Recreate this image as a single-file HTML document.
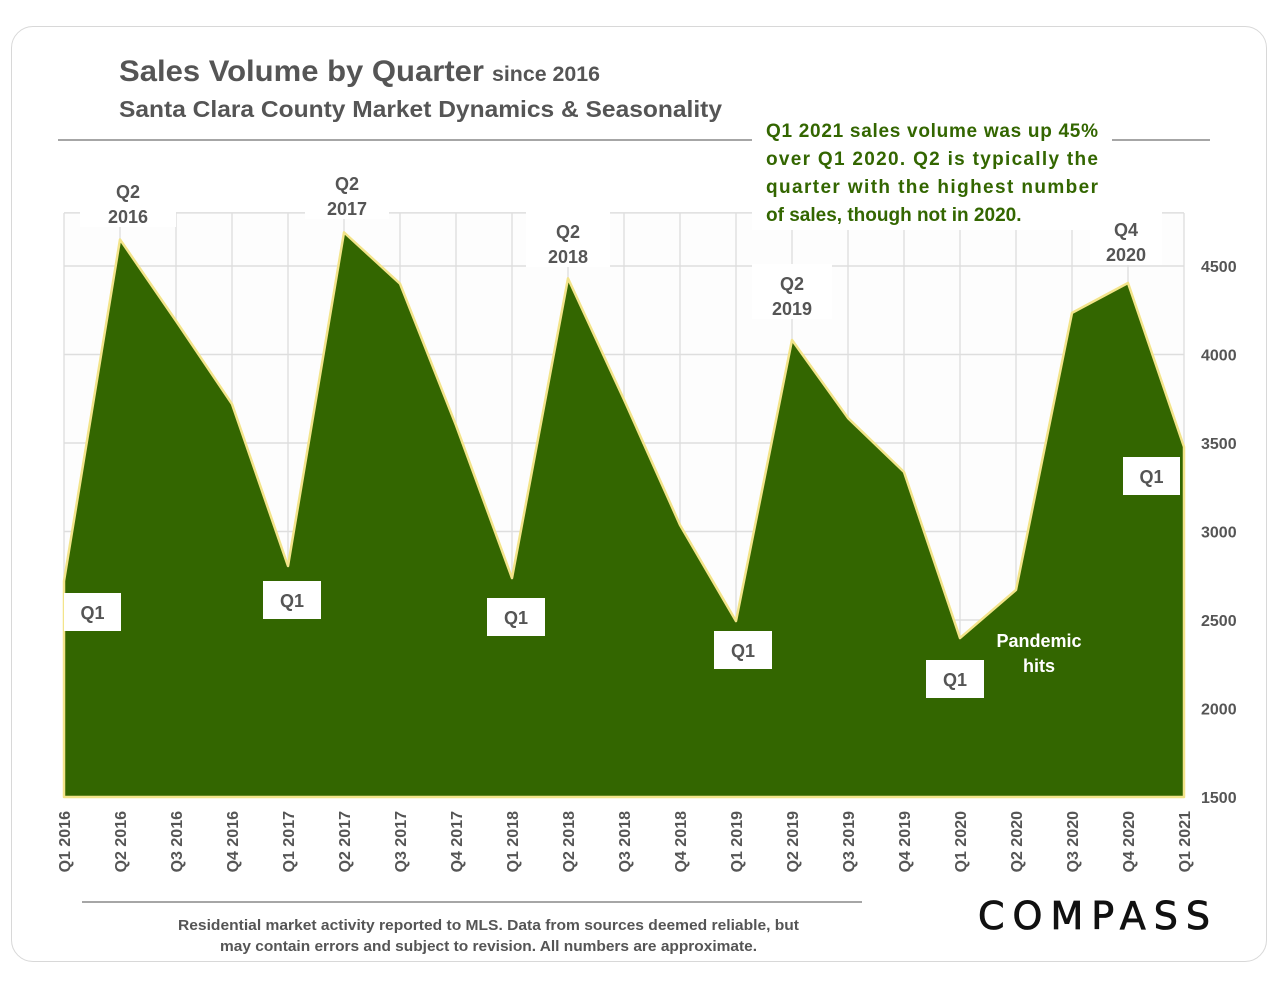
<!DOCTYPE html>
<html><head><meta charset="utf-8"><style>
body{margin:0;background:#fff;width:1280px;height:989px;overflow:hidden;font-family:"Liberation Sans",sans-serif}
#card{position:absolute;left:11px;top:26px;width:1256px;height:936px;border:1.5px solid #d8d8d8;border-radius:22px;box-sizing:border-box}
</style></head><body>
<div id="card"></div>
<svg id="chart" width="1280" height="989" style="position:absolute;left:0;top:0"></svg>
<script>
const categories=["Q1 2016","Q2 2016","Q3 2016","Q4 2016","Q1 2017","Q2 2017","Q3 2017","Q4 2017","Q1 2018","Q2 2018","Q3 2018","Q4 2018","Q1 2019","Q2 2019","Q3 2019","Q4 2019","Q1 2020","Q2 2020","Q3 2020","Q4 2020","Q1 2021"];
const salesVolume=[2720,4650,4190,3720,2805,4690,4400,3600,2737,4430,3745,3037,2494,4082,3641,3336,2398,2670,4235,4404,3478];
const yTicks=[1500,2000,2500,3000,3500,4000,4500];
const NS="http://www.w3.org/2000/svg";
const svg=document.getElementById('chart');
const x0=64,x1=1184,yBase=797,yTopPx=266;
const yMin=1500,yRefMax=4500;
function xScale(i){return x0+(x1-x0)*i/(categories.length-1);}
function yScale(v){return yBase-(v-yMin)*(yBase-yTopPx)/(yRefMax-yMin);}
function mk(tag,attrs,parent){const e=document.createElementNS(NS,tag);for(const k in attrs)e.setAttribute(k,attrs[k]);(parent||svg).appendChild(e);return e;}
function txt(s,attrs,parent){const e=mk('text',attrs,parent);e.textContent=s;return e;}
const bg=mk('rect',{x:x0,y:213,width:x1-x0,height:yBase-213,fill:'#fdfdfd'});


categories.forEach((c,i)=>{const l=mk('line',{x1:xScale(i),x2:xScale(i),y1:213,y2:yBase,stroke:'#e2e2e2','stroke-width':1.5});

});
[4800].concat(yTicks).forEach(v=>{const l=mk('line',{x1:x0,x2:x1,y1:yScale(v),y2:yScale(v),stroke:'#dedede','stroke-width':1.5});

});
let d='M'+xScale(0)+','+yBase;
salesVolume.forEach((v,i)=>{d+=' L'+xScale(i)+','+yScale(v);});
d+=' L'+xScale(salesVolume.length-1)+','+yBase+' Z';
const area=mk('path',{d:d,fill:'#336600',stroke:'#f3e48a','stroke-width':2.5,'stroke-linejoin':'round'});


yTicks.forEach(v=>{const t=txt(String(v),{x:1201,y:yScale(v)+6,'font-size':16,'font-weight':'bold',fill:'#555'});

});
categories.forEach((c,i)=>{const t=txt(c,{x:0,y:0,'font-size':16,'font-weight':'bold',fill:'#555','text-anchor':'end',transform:'translate('+(xScale(i)+6)+',811) rotate(-90)'});

});
function box(x,y,w,h,lines,name){const g=mk('g',{});
mk('rect',{x:x,y:y,width:w,height:h,fill:'#fff'},g);
lines.forEach((s,k)=>txt(s,{x:x+w/2,y:y+26+k*25,'text-anchor':'middle','font-size':18,'font-weight':'bold',fill:'#555'},g));}
box(80,172,96,55,["Q2","2016"],'q2-2016-label');
box(305,164,84,55,["Q2","2017"],'q2-2017-label');
box(526,212,84,55,["Q2","2018"],'q2-2018-label');
box(752,264,80,55,["Q2","2019"],'q2-2019-label');
box(1090,210,72,55,["Q4","2020"],'q4-2020-label');
box(64,593,57,38,["Q1"],'q1-2016-label');
box(263,581,58,38,["Q1"],'q1-2017-label');
box(487,598,58,38,["Q1"],'q1-2018-label');
box(714,631,58,38,["Q1"],'q1-2019-label');
box(926,660,58,38,["Q1"],'q1-2020-label');
box(1123,457,57,38,["Q1"],'q1-2021-label');
const ph=txt('Pandemic',{x:1039,y:647,'text-anchor':'middle','font-size':18,'font-weight':'bold',fill:'#fff'});

txt('hits',{x:1039,y:672,'text-anchor':'middle','font-size':18,'font-weight':'bold',fill:'#fff'});
const t1=txt('',{x:119,y:81,fill:'#555','font-weight':'bold'});

t1.innerHTML='<tspan font-size="30" textLength="365" lengthAdjust="spacingAndGlyphs">Sales Volume by Quarter</tspan><tspan font-size="21" dx="8" textLength="108" lengthAdjust="spacingAndGlyphs">since 2016</tspan>';
const t2=txt('Santa Clara County Market Dynamics & Seasonality',{x:119,y:117,'font-size':23,'font-weight':'bold',fill:'#555',textLength:603,lengthAdjust:'spacingAndGlyphs'});

mk('line',{x1:58,x2:752,y1:140,y2:140,stroke:'#888','stroke-width':1.5});
mk('line',{x1:1112,x2:1210,y1:140,y2:140,stroke:'#888','stroke-width':1.5});
mk('rect',{x:752,y:112,width:355,height:118,fill:'#fff'});
const note=["Q1 2021 sales volume was up 45%","over Q1 2020. Q2 is typically the","quarter with the highest number","of sales, though not in 2020."];
note.forEach((s,k)=>{const t=txt(s,{x:766,y:137+k*28,'font-size':19,'font-weight':'bold',fill:'#336600'});
if(k<3)t.setAttribute('textLength',332);
});
mk('line',{x1:82,x2:862,y1:902,y2:902,stroke:'#888','stroke-width':1.5});
const f1=txt('Residential market activity reported to MLS. Data from sources deemed reliable, but',{x:178,y:930,'font-size':15,'font-weight':'bold',fill:'#555',textLength:621,lengthAdjust:'spacingAndGlyphs'});

txt('may contain errors and subject to revision. All numbers are approximate.',{x:220,y:951,'font-size':15,'font-weight':'bold',fill:'#555',textLength:537,lengthAdjust:'spacingAndGlyphs'});
const lg=txt('COMPASS',{x:978,y:929,'font-size':38,fill:'#111',stroke:'#111','stroke-width':0.8,'font-family':'DejaVu Sans',textLength:232,lengthAdjust:'spacing'});

</script>
</body></html>
